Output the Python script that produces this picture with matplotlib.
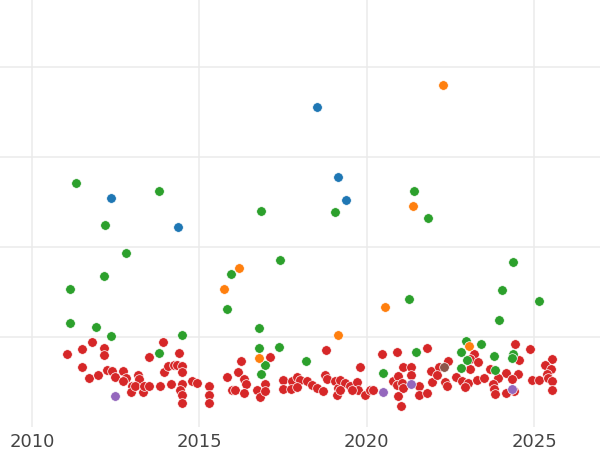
import matplotlib
matplotlib.use("Agg")
from matplotlib import pyplot as plt

# values (x = year, y = value in grid units)
red_x = [2011.05, 2011.49, 2011.80, 2012.14, 2012.14, 2011.49, 2011.69, 2011.96, 2012.23, 2012.39,
         2012.49, 2012.72, 2012.81, 2012.72, 2013.15, 2013.18, 2012.97, 2012.96, 2013.08, 2013.32,
         2013.34, 2013.50, 2013.50, 2013.91, 2013.82, 2013.94, 2014.07, 2014.23, 2014.14, 2014.33,
         2014.47, 2014.47, 2014.39, 2014.47, 2014.42, 2014.48, 2014.47, 2014.77, 2014.93, 2015.29,
         2015.29, 2015.29, 2015.83, 2015.98, 2016.07, 2016.15, 2016.24, 2016.33, 2016.40, 2016.34,
         2016.73, 2016.80, 2016.95, 2016.97, 2017.11, 2017.49, 2017.49, 2017.76, 2017.75, 2017.93,
         2018.01, 2017.91, 2018.21, 2018.36, 2018.51, 2018.75, 2018.80, 2018.70, 2018.79, 2019.05,
         2019.15, 2019.10, 2019.20, 2019.35, 2019.50, 2019.70, 2019.75, 2019.55, 2019.20, 2019.81,
         2019.95, 2020.10, 2020.20, 2020.47, 2020.90, 2021.81, 2021.08, 2021.33, 2021.31, 2021.91,
         2022.17, 2021.94, 2022.09, 2020.79, 2020.94, 2020.91, 2021.05, 2021.09, 2020.94, 2021.03,
         2021.57, 2021.55, 2021.79, 2023.21, 2023.08, 2023.32, 2024.42, 2024.54, 2024.87, 2022.44,
         2023.09, 2023.69, 2022.67, 2022.84, 2023.04, 2022.94, 2022.34, 2022.39, 2023.30, 2023.51,
         2024.16, 2024.53, 2023.93, 2023.78, 2023.81, 2023.83, 2024.33, 2024.40, 2024.15, 2024.93,
         2025.53, 2025.33, 2025.50, 2025.15, 2025.38, 2025.43, 2025.53, 2025.53]
red_y = [0.811, 0.867, 0.941, 0.874, 0.803, 0.663, 0.544, 0.581, 0.630, 0.620,
         0.561, 0.620, 0.550, 0.511, 0.576, 0.539, 0.453, 0.389, 0.452, 0.389,
         0.453, 0.452, 0.776, 0.948, 0.452, 0.614, 0.681, 0.687, 0.478, 0.691,
         0.683, 0.617, 0.819, 0.474, 0.411, 0.353, 0.263, 0.514, 0.487, 0.456,
         0.353, 0.263, 0.552, 0.408, 0.408, 0.608, 0.737, 0.539, 0.478, 0.374,
         0.417, 0.339, 0.483, 0.400, 0.778, 0.519, 0.426, 0.517, 0.428, 0.561,
         0.526, 0.450, 0.508, 0.470, 0.433, 0.581, 0.533, 0.397, 0.859, 0.508,
         0.433, 0.352, 0.526, 0.489, 0.452, 0.500, 0.414, 0.414, 0.414, 0.663,
         0.352, 0.414, 0.414, 0.814, 0.830, 0.874, 0.663, 0.663, 0.574, 0.626,
         0.663, 0.500, 0.574, 0.508, 0.563, 0.470, 0.489, 0.433, 0.348, 0.237,
         0.452, 0.352, 0.374, 0.811, 0.759, 0.719, 0.920, 0.750, 0.863, 0.730,
         0.644, 0.648, 0.552, 0.508, 0.489, 0.444, 0.497, 0.452, 0.526, 0.544,
         0.600, 0.594, 0.544, 0.481, 0.422, 0.370, 0.531, 0.403, 0.376, 0.522,
         0.759, 0.692, 0.648, 0.522, 0.589, 0.544, 0.508, 0.411]

green_x = [2011.31, 2013.80, 2012.17, 2016.85, 2021.42, 2019.06, 2021.83, 2012.81, 2012.14, 2011.13,
           2011.13, 2011.90, 2012.37, 2014.47, 2013.80, 2015.95, 2015.82, 2017.41, 2016.79, 2016.79,
           2017.38, 2016.95, 2016.85, 2018.17, 2024.36, 2024.05, 2025.15, 2023.95, 2021.27, 2021.47,
           2020.49, 2022.96, 2022.81, 2023.41, 2023.80, 2023.00, 2022.82, 2023.83, 2024.38, 2024.34]
green_y = [2.714, 2.619, 2.244, 2.400, 2.626, 2.386, 2.319, 1.937, 1.681, 1.533,
           1.159, 1.108, 1.014, 1.019, 0.822, 1.697, 1.314, 1.852, 1.097, 0.878,
           0.889, 0.689, 0.586, 0.739, 1.833, 1.522, 1.403, 1.189, 1.426, 0.833,
           0.600, 0.952, 0.839, 0.919, 0.789, 0.742, 0.652, 0.639, 0.806, 0.772]

blue_x = [2018.51, 2019.14, 2019.39, 2012.37, 2014.37]
blue_y = [3.556, 2.781, 2.519, 2.541, 2.219]

orange_x = [2022.29, 2021.37, 2016.18, 2015.72, 2020.56, 2019.14, 2016.79, 2023.07]
orange_y = [3.797, 2.459, 1.763, 1.530, 1.330, 1.019, 0.770, 0.900]

purple_x = [2012.49, 2020.50, 2021.33, 2024.33]
purple_y = [0.341, 0.394, 0.483, 0.426]

brown_x = [2022.31]
brown_y = [0.670]

xticks = [2010, 2015, 2020, 2025]

fig = plt.figure(figsize=(6, 4.5), dpi=100)
ax = fig.add_axes([0, 0.051, 1, 0.949])

groups = [
    (red_x, red_y, '#d62728'),
    (green_x, green_y, '#2ca02c'),
    (blue_x, blue_y, '#1f77b4'),
    (orange_x, orange_y, '#ff7f0e'),
    (purple_x, purple_y, '#9467bd'),
    (brown_x, brown_y, '#8c564b'),
]
for xs, ys, c in groups:
    ax.scatter(xs, ys, s=48, color=c, edgecolor='white', linewidth=0.5, zorder=3)

ax.set_xlim(2009.04, 2026.97)
ax.set_ylim(0, 4.744)
ax.set_xticks(xticks)
ax.set_xticklabels([str(t) for t in xticks])
ax.set_yticks([1, 2, 3, 4])
ax.set_yticklabels([])
ax.tick_params(length=0, labelsize=13, labelcolor='#444444', pad=4)
ax.grid(True, color='#ebebeb', linewidth=1.1, zorder=0)
ax.set_axisbelow(True)
for s in ax.spines.values():
    s.set_visible(False)

fig.savefig('out.png', dpi=100)
